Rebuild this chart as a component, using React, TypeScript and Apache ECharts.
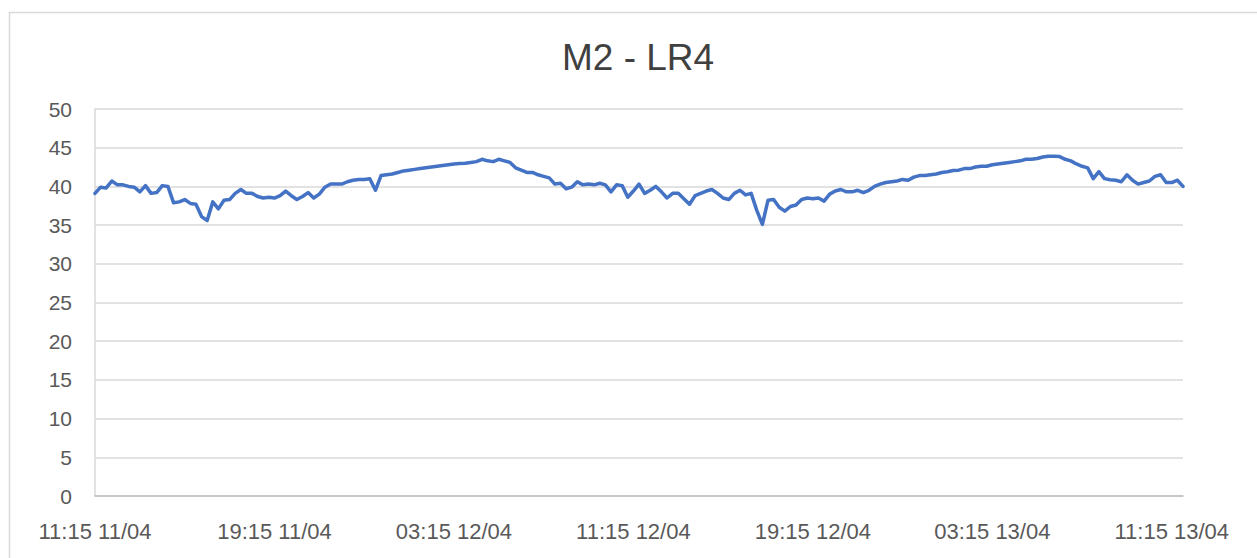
import React, { useEffect, useRef } from "react";
import * as echarts from "echarts";

const titleText = "M2 - LR4";

// readings at 15-minute steps from 11:15 11/04 to 11:15 13/04
const values1: number[] = [
  39.1, 39.9, 39.8, 40.7, 40.2, 40.2, 40.0, 39.9, 39.3, 40.1,
  39.1, 39.2, 40.1, 40.0, 37.9, 38.0, 38.3, 37.8, 37.7, 36.1,
  35.6, 38.0, 37.1, 38.2, 38.3, 39.1, 39.6, 39.1, 39.1, 38.7,
  38.5, 38.6, 38.5, 38.8, 39.4, 38.8, 38.3, 38.7, 39.2, 38.5,
  39.0, 39.9, 40.3, 40.3, 40.3, 40.6, 40.8, 40.9, 40.9, 41.0,
  39.5, 41.4, 41.5, 41.6, 41.8, 42.0, 42.1, 42.2, 42.3, 42.4,
  42.5, 42.6, 42.7, 42.8, 42.9,
];
const values2: number[] = [
  42.95, 43.0, 43.1, 43.2, 43.5, 43.3, 43.2, 43.5, 43.3, 43.1,
  42.4, 42.1, 41.8, 41.8, 41.5, 41.3, 41.1, 40.3, 40.4, 39.7,
  39.9, 40.6, 40.2, 40.3, 40.2, 40.4, 40.2, 39.3, 40.2, 40.1,
  38.6, 39.4, 40.3, 39.1, 39.5, 40.0, 39.3, 38.5, 39.1, 39.1,
  38.4, 37.7, 38.8, 39.1, 39.4, 39.6, 39.1, 38.5, 38.3, 39.1,
  39.5, 38.9, 39.1, 36.9, 35.1, 38.2, 38.3, 37.3, 36.8, 37.4,
  37.6, 38.3, 38.5, 38.4,
];
const values3: number[] = [
  38.5, 38.1, 39.0, 39.4, 39.6, 39.3, 39.3, 39.5, 39.2, 39.5,
  40.0, 40.3, 40.5, 40.6, 40.7, 40.9, 40.8, 41.2, 41.4, 41.4,
  41.5, 41.6, 41.8, 41.9, 42.05, 42.1, 42.3, 42.3, 42.5, 42.6,
  42.6, 42.8, 42.9, 43.0, 43.1, 43.2, 43.3, 43.5, 43.5, 43.6,
  43.8, 43.9, 43.9, 43.85, 43.5, 43.3, 42.9, 42.6, 42.4, 41.0,
  41.9, 41.0, 40.85, 40.8, 40.6, 41.5, 40.8, 40.3, 40.5, 40.7,
  41.3, 41.5, 40.5, 40.5, 40.8, 40.0,
];
const seriesValues: number[] = [...values1, ...values2, ...values3];

const startDay = 11;
const startMinutes = 11 * 60 + 15;
const stepMinutes = 15;

const pad = (n: number) => (n < 10 ? "0" + n : "" + n);
const categories: string[] = seriesValues.map((_, i) => {
  const total = startMinutes + i * stepMinutes;
  const day = startDay + Math.floor(total / 1440);
  const m = total % 1440;
  return `${pad(Math.floor(m / 60))}:${pad(m % 60)} ${pad(day)}/04`;
});

const yMin = 0;
const yMax = 50;
const yStep = 5;

export default function App() {
  const ref = useRef<HTMLDivElement>(null);
  useEffect(() => {
    document.body.style.margin = "0";
    if (!ref.current) return;
    const chart = echarts.init(ref.current, undefined, { renderer: "svg" });
    const font = "Liberation Sans, Arial, sans-serif";
    chart.setOption({
      animation: false,
      backgroundColor: "#ffffff",
      title: {
        text: titleText,
        left: 557,
        top: 34,
        textStyle: { fontSize: 37, fontWeight: "normal", color: "#404040", fontFamily: font },
      },
      graphic: [
        {
          type: "rect",
          shape: { x: 9.5, y: 12.5, width: 1400, height: 700 },
          style: { fill: "none", stroke: "#d9d9d9", lineWidth: 1.5 },
          silent: true,
          z: -1,
        },
      ],
      grid: { left: 95, right: 74, top: 109, bottom: 62, containLabel: false },
      xAxis: {
        type: "category",
        data: categories,
        boundaryGap: false,
        axisLine: { show: true, lineStyle: { color: "#bfbfbf", width: 1.5 } },
        axisTick: { show: false },
        axisLabel: {
          interval: 31,
          margin: 24,
          fontSize: 22,
          color: "#595959",
          fontFamily: font,
        },
        splitLine: { show: false },
      },
      yAxis: {
        type: "value",
        min: yMin,
        max: yMax,
        interval: yStep,
        axisLine: { show: true, lineStyle: { color: "#d9d9d9", width: 1.5 } },
        axisTick: { show: false },
        axisLabel: { margin: 23, fontSize: 21, color: "#595959", fontFamily: font },
        splitLine: { show: true, lineStyle: { color: "#d9d9d9", width: 1.5 } },
      },
      series: [
        {
          type: "line",
          data: seriesValues,
          showSymbol: false,
          symbol: "none",
          lineStyle: { color: "#4472c4", width: 3.5, join: "round", cap: "round" },
          itemStyle: { color: "#4472c4" },
        },
      ],
    });
    return () => chart.dispose();
  }, []);
  return <div ref={ref} style={{ width: 1257, height: 558 }} />;
}
